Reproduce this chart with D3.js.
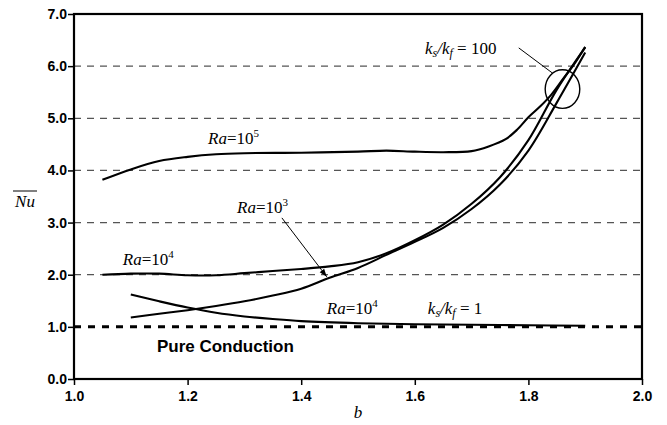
<!DOCTYPE html>
<html>
<head>
<meta charset="utf-8">
<script src="https://cdn.jsdelivr.net/npm/d3@7"></script>
<style>
  body { margin: 0; background: #fff; }
  svg text { fill: #000; }
  .tick-label { font-family: 'Liberation Sans', Arial, sans-serif; font-weight: bold; font-size: 14px; }
  .serif { font-family: 'Liberation Serif', 'Times New Roman', serif; font-size: 17px; }
</style>
</head>
<body>
<div id="chart"></div>
<script>
// Ra = 10^5, ks/kf = 100
const bRa5 = [1.05, 1.1, 1.15, 1.2, 1.25, 1.3, 1.4, 1.5, 1.55, 1.6, 1.65, 1.7, 1.73, 1.76, 1.78, 1.8, 1.82, 1.84, 1.86, 1.88, 1.9];
const nuRa5 = [3.82, 4.02, 4.18, 4.26, 4.31, 4.33, 4.34, 4.36, 4.38, 4.36, 4.35, 4.37, 4.46, 4.6, 4.78, 5.02, 5.22, 5.45, 5.74, 6.03, 6.37];

// Ra = 10^4, ks/kf = 100
const bRa4 = [1.05, 1.1, 1.15, 1.2, 1.25, 1.3, 1.35, 1.4, 1.45, 1.5, 1.55, 1.6, 1.65, 1.7, 1.75, 1.8, 1.85, 1.9];
const nuRa4 = [2.0, 2.02, 2.02, 1.99, 1.99, 2.03, 2.07, 2.11, 2.16, 2.24, 2.41, 2.66, 2.96, 3.36, 3.87, 4.58, 5.55, 6.36];

// Ra = 10^3, ks/kf = 100
const bRa3 = [1.1, 1.15, 1.2, 1.25, 1.3, 1.35, 1.4, 1.45, 1.5, 1.55, 1.6, 1.65, 1.7, 1.75, 1.8, 1.85, 1.9];
const nuRa3 = [1.18, 1.25, 1.32, 1.4, 1.49, 1.6, 1.73, 1.94, 2.13, 2.38, 2.63, 2.9, 3.26, 3.73, 4.38, 5.3, 6.26];

// Ra = 10^4, ks/kf = 1
const bK1 = [1.1, 1.15, 1.2, 1.25, 1.3, 1.35, 1.4, 1.5, 1.6, 1.7, 1.8, 1.9];
const nuK1 = [1.62, 1.49, 1.37, 1.27, 1.2, 1.15, 1.11, 1.07, 1.05, 1.04, 1.03, 1.02];

const xTicks = [1.0, 1.2, 1.4, 1.6, 1.8, 2.0];
const yTicks = [0, 1, 2, 3, 4, 5, 6, 7];
const gridValues = [2, 3, 4, 5, 6];
const conductionNu = 1.0;

const width = 667;
const height = 425;
const margin = { top: 14, right: 25, bottom: 46, left: 74 };

const svg = d3.select('#chart').append('svg').attr('width', width).attr('height', height);

const x = d3.scaleLinear().domain([1, 2]).range([margin.left, width - margin.right]);
const y = d3.scaleLinear().domain([0, 7]).range([height - margin.bottom, margin.top]);

/* Grid
=========================================================================*/
svg.append('g')
  .selectAll('line')
  .data(gridValues)
  .join('line')
  .attr('x1', x(1)).attr('x2', x(2))
  .attr('y1', d => y(d)).attr('y2', d => y(d))
  .attr('stroke', '#555')
  .attr('stroke-width', 1.2)
  .attr('stroke-dasharray', '7,6');

// pure conduction line
svg.append('line')
  .attr('x1', x(1)).attr('x2', x(2))
  .attr('y1', y(conductionNu)).attr('y2', y(conductionNu))
  .attr('stroke', '#000')
  .attr('stroke-width', 3)
  .attr('stroke-dasharray', '7,7');

/* Axes
=========================================================================*/
const xAxis = d3.axisBottom(x).tickValues(xTicks).tickFormat(d3.format('.1f')).tickSize(6).tickSizeOuter(0);
const yAxis = d3.axisLeft(y).tickValues(yTicks).tickFormat(d3.format('.1f')).tickSize(6).tickSizeOuter(0);

const gx = svg.append('g').attr('transform', `translate(0, ${y(0)})`).call(xAxis);
const gy = svg.append('g').attr('transform', `translate(${x(1)}, 0)`).call(yAxis);

[gx, gy].forEach(g => {
  g.select('.domain').remove();
  g.selectAll('.tick line').attr('stroke', '#000').attr('stroke-width', 1.5);
  g.selectAll('.tick text').attr('class', 'tick-label');
});
gx.selectAll('.tick text').attr('dy', '0.9em');
gy.selectAll('.tick text').attr('x', -7);

svg.append('rect')
  .attr('x', x(1)).attr('y', y(7))
  .attr('width', x(2) - x(1)).attr('height', y(0) - y(7))
  .attr('fill', 'none')
  .attr('stroke', '#000')
  .attr('stroke-width', 2.2);

// axis titles
svg.append('text')
  .attr('class', 'serif')
  .attr('x', (x(1) + x(2)) / 2).attr('y', 418)
  .attr('text-anchor', 'middle')
  .style('font-style', 'italic')
  .text('b');

svg.append('text')
  .attr('class', 'serif')
  .attr('x', 25).attr('y', 207)
  .attr('text-anchor', 'middle')
  .style('font-style', 'italic')
  .text('Nu');
svg.append('line')
  .attr('x1', 13).attr('x2', 37).attr('y1', 191).attr('y2', 191)
  .attr('stroke', '#000').attr('stroke-width', 1);

/* Curves
=========================================================================*/
const line = d3.line()
  .x(d => x(d[0]))
  .y(d => y(d[1]))
  .curve(d3.curveCatmullRom.alpha(0.5));

const series = [
  [bRa5, nuRa5],
  [bRa4, nuRa4],
  [bRa3, nuRa3],
  [bK1, nuK1]
];

svg.append('g')
  .selectAll('path')
  .data(series.map(([bs, nus]) => bs.map((b, i) => [b, nus[i]])))
  .join('path')
  .attr('d', line)
  .attr('fill', 'none')
  .attr('stroke', '#000')
  .attr('stroke-width', 2.1);

/* Annotations
=========================================================================*/
function raLabel(b, nu, exp) {
  const t = svg.append('text').attr('class', 'serif').attr('x', x(b)).attr('y', y(nu));
  t.append('tspan').style('font-style', 'italic').text('Ra');
  t.append('tspan').text('=10');
  t.append('tspan').attr('dy', -7).style('font-size', '11px').text(exp);
}
raLabel(1.236, 4.51, '5');
raLabel(1.287, 3.19, '3');
raLabel(1.086, 2.19, '4');
raLabel(1.445, 1.25, '4');

function ratioLabel(b, nu, value) {
  const t = svg.append('text').attr('class', 'serif').attr('x', x(b)).attr('y', y(nu));
  t.append('tspan').style('font-style', 'italic').text('k');
  t.append('tspan').attr('dy', 3).style('font-size', '12px').style('font-style', 'italic').text('s');
  t.append('tspan').attr('dy', -3).style('font-style', 'italic').text('/k');
  t.append('tspan').attr('dy', 3).style('font-size', '12px').style('font-style', 'italic').text('f');
  t.append('tspan').attr('dy', -3).text(` = ${value}`);
}
ratioLabel(1.618, 6.23, 100);
ratioLabel(1.623, 1.25, 1);

svg.append('text')
  .attr('x', x(1.146)).attr('y', y(0.52))
  .style('font-family', "'Liberation Sans', Arial, sans-serif")
  .style('font-weight', 'bold')
  .style('font-size', '17px')
  .text('Pure Conduction');

// arrow to Ra=10^3
svg.append('defs').append('marker')
  .attr('id', 'arrow')
  .attr('viewBox', '0 0 10 10')
  .attr('refX', 10).attr('refY', 5)
  .attr('markerWidth', 8).attr('markerHeight', 8)
  .attr('orient', 'auto')
  .append('path')
  .attr('d', 'M0,1.5 L10,5 L0,8.5 Z')
  .attr('fill', '#000');

svg.append('line')
  .attr('x1', x(1.366)).attr('y1', y(3.09))
  .attr('x2', x(1.445)).attr('y2', y(1.96))
  .attr('stroke', '#000').attr('stroke-width', 1)
  .attr('marker-end', 'url(#arrow)');

// leader + ellipse for ks/kf = 100
svg.append('line')
  .attr('x1', x(1.783)).attr('y1', y(6.35))
  .attr('x2', x(1.842)).attr('y2', y(5.87))
  .attr('stroke', '#000').attr('stroke-width', 1);

svg.append('ellipse')
  .attr('cx', x(1.86)).attr('cy', y(5.56))
  .attr('rx', 17.3).attr('ry', 19.3)
  .attr('fill', 'none')
  .attr('stroke', '#000')
  .attr('stroke-width', 1.4);
</script>
</body>
</html>
